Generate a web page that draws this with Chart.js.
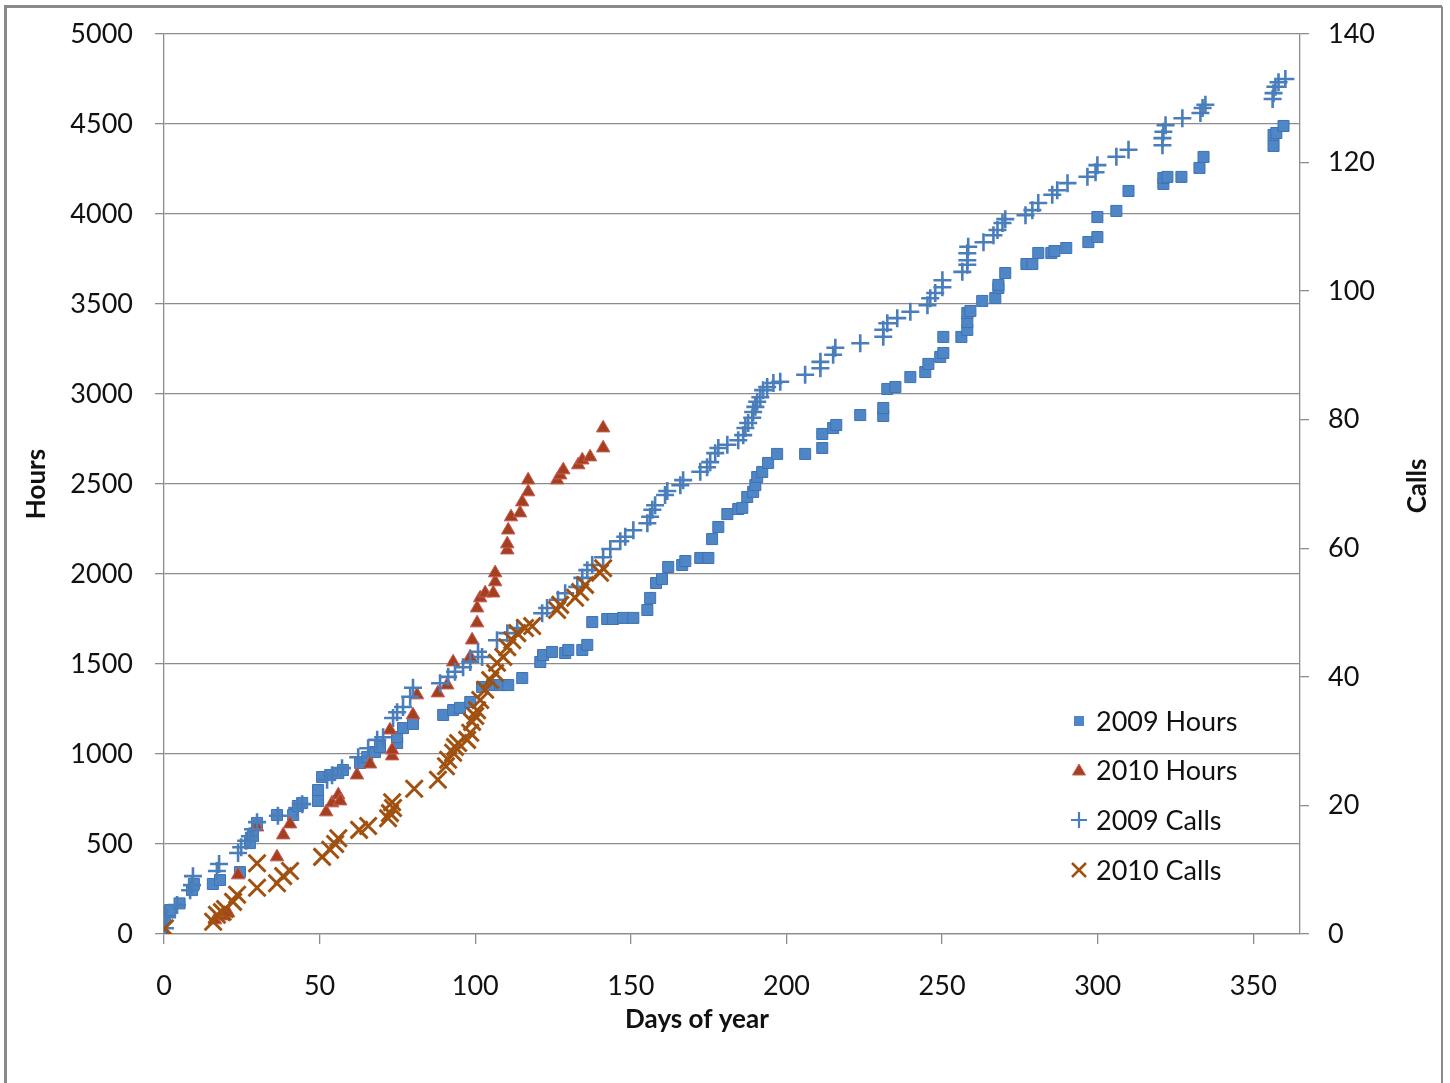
<!DOCTYPE html>
<html><head><meta charset="utf-8">
<script src="https://cdn.jsdelivr.net/npm/chart.js@4/dist/chart.umd.min.js"></script>
<style>html,body{margin:0;padding:0;background:#fff;overflow:hidden;} canvas{display:block;}</style>
</head><body>
<canvas id="c" width="1450" height="1083" style="width:1450px;height:1083px"></canvas>
<script>
// ---- data: [day of year, value] ----
const seriesNames = ['2009 Hours', '2010 Hours', '2009 Calls', '2010 Calls'];
const xTickValues = [0, 50, 100, 150, 200, 250, 300, 350];

const hours2009 = [[0.3,89],[1,122],[2,133],[5,170],[9,244],[9.6,278],[15.7,278],[18,300],[24.4,344],[27.6,505],[28.6,544],[29.9,617],[36.3,661],[41.5,661],[43,711],[44.4,728],[49.5,739],[49.5,800],[50.8,872],[53.4,883],[56,894],[57.5,911],[63,950],[65.3,983],[67.8,1011],[69.4,1039],[74.9,1061],[74.9,1094],[76.8,1144],[80,1167],[89.7,1217],[92.9,1244],[95.1,1256],[98.4,1289],[102.2,1372],[105.4,1383],[108,1383],[110.6,1383],[115.1,1422],[120.9,1511],[121.8,1550],[124.7,1567],[128.9,1561],[129.9,1578],[134.4,1578],[136,1606],[137.6,1733],[142.4,1750],[144.3,1750],[147.5,1756],[150.8,1756],[155.3,1800],[156.2,1867],[158.1,1950],[160,1972],[162,2039],[166.5,2050],[167.5,2072],[172.3,2089],[174.9,2089],[176.1,2194],[178.1,2261],[181,2333],[184.5,2361],[185.8,2367],[187.4,2428],[189.3,2456],[190,2494],[190.6,2539],[192.2,2567],[194.1,2617],[197,2667],[206,2667],[211.5,2700],[211.5,2778],[215,2811],[216,2828],[223.7,2883],[231.1,2878],[231.1,2922],[232.4,3028],[235,3039],[239.8,3094],[244.6,3122],[245.6,3167],[249.4,3206],[250.4,3228],[250.4,3317],[256.2,3317],[258.1,3356],[258.1,3400],[258.1,3450],[259.1,3461],[262.9,3517],[267.1,3533],[268.1,3589],[268.1,3606],[270.3,3672],[277.1,3722],[279,3722],[280.9,3783],[285.1,3783],[286.1,3794],[289.9,3811],[297,3844],[299.9,3872],[299.9,3983],[306,4017],[309.9,4128],[321.1,4167],[321.1,4200],[322.4,4206],[326.9,4206],[332.7,4256],[334,4317],[356.5,4378],[356.5,4439],[357.4,4450],[359.7,4489]];

const hours2010 = [[0.3,0],[16.4,78],[19.6,100],[20.6,117],[23.8,328],[29.9,594],[36.3,428],[38.3,550],[40.5,611],[52.1,678],[54,728],[56,772],[56.6,739],[62,883],[66.2,944],[72.6,1133],[73.3,989],[73.3,1022],[80,1217],[81.3,1328],[88,1339],[91,1383],[92.9,1511],[98.4,1539],[99,1633],[100.6,1728],[100.6,1811],[101.6,1867],[103.2,1894],[105.8,1894],[106.4,1956],[106.4,2006],[110.3,2133],[110.3,2167],[110.6,2244],[111.5,2317],[114.4,2339],[115.1,2400],[117,2456],[117,2522],[126.3,2522],[127.3,2550],[128.3,2578],[133.1,2606],[134.4,2633],[136.9,2650],[141.1,2700],[141.1,2811]];

const calls2009 = [[0.3,0.9],[1,2.6],[4.2,4.5],[8.4,6.8],[9,7.6],[9.3,9],[17,9.8],[17.7,10.9],[23.8,12.6],[24.8,13.5],[26.4,14.5],[27.6,15.2],[28.6,16.3],[29.9,17.4],[36.6,18.4],[42.8,19.6],[44.4,20.2],[52.4,24],[54,24.7],[57.2,25.8],[62.4,27.5],[65.6,28.9],[68.5,30.2],[70.4,30.6],[73.6,33.6],[74.9,34.5],[76.8,35.3],[79.1,36.9],[80,38.3],[88.7,39],[91.3,40],[93.5,40.8],[96.1,41.5],[98.4,42.3],[100.9,43.9],[102.2,43.1],[107,45.7],[110.3,46.8],[113.5,47.6],[121.5,49.9],[123.1,50.7],[126.6,52],[128.9,53],[132.8,54],[134.4,55.4],[136,56.6],[137.6,57.4],[141.1,58.6],[143.4,59.9],[146.6,61.1],[148.2,61.8],[150.8,62.8],[155.3,63.9],[156.2,64.9],[156.9,66],[157.8,66.7],[161,68.3],[161.7,68.9],[165.9,69.8],[166.8,70.6],[172.3,71.9],[174.5,72.6],[175.5,73.4],[177.1,74.8],[178.1,75.6],[181,76.1],[184.5,76.8],[186.1,77.6],[186.8,78.7],[187.7,79.5],[189,80.3],[189.3,81.2],[190,82],[190.6,82.8],[191.6,83.5],[192.5,84.6],[193.8,85.1],[195.8,85.7],[198,85.9],[206,87],[210.9,88],[210.9,89],[215,90.1],[215.7,91.2],[223.7,91.9],[231.1,92.9],[231.1,94],[232.4,95],[235.6,95.8],[239.8,96.8],[245.3,97.8],[246.2,98.9],[247.8,99.7],[250.1,100.6],[250.1,101.7],[256.5,103],[258.1,104.1],[258.1,104.8],[258.1,105.9],[258.4,106.9],[263.3,107.6],[266.5,108.7],[267.8,109.5],[269.4,110.6],[270.3,111.2],[276.8,111.8],[279,112.6],[280.9,113.7],[285.4,115],[287,115.7],[290.3,116.8],[296.7,117.8],[299.3,118.5],[299.9,119.6],[306,120.9],[309.9,122],[320.8,122.7],[320.8,123.8],[321.1,124.8],[321.8,125.8],[327.2,126.9],[333,127.7],[333.7,128.5],[334.6,129],[356.2,129.9],[356.5,130.8],[357.1,131.8],[358.1,132.5],[360.3,133]];

const calls2010 = [[0.3,0.9],[15.8,1.9],[17,3],[18.6,3.4],[19.6,3.9],[22.2,5],[23.5,6.1],[29.9,7.2],[29.9,11],[36.3,7.9],[38.3,9],[40.5,9.8],[50.8,12],[53.4,13.1],[55,14],[56,14.9],[62.7,16.2],[65.6,16.8],[72,18],[72.6,18.8],[73.6,19.6],[73.3,20.5],[80.4,22.6],[88,24],[90.6,26.1],[91.3,27.1],[92.9,28.2],[93.5,29.1],[94.5,29.7],[97.4,30.2],[98.4,31.3],[99,33],[100,33.9],[100.6,34.8],[101.6,36.4],[103.2,38],[104.8,39.5],[106.4,40.6],[107,42.2],[109,43.1],[110.3,44.6],[111.9,45.7],[113.5,46.8],[116,47.6],[118.3,47.9],[126.3,50.4],[127.3,51.2],[132.1,52.3],[133.7,53.2],[135.3,54.3],[140.1,56.2],[141.1,56.9]];

// ---- styles ----
const BLUE = '#4A7EBB';
const SQ_FILL = '#4F86C6', SQ_EDGE = '#3E72B4';
const TRI_FILL = '#A5401F', TRI_EDGE = '#C65A55';
const X_COL = '#A0510F';
const GRID = '#8c8c8c';
const TXT = '#111';
const FONT = 'Lato';

const toXY = arr => arr.map(p => ({x: p[0], y: p[1]}));

const framePlugin = {
  id: 'frame',
  beforeDraw(chart) {
    const ctx = chart.ctx;
    ctx.save();
    ctx.fillStyle = '#fff';
    ctx.fillRect(0, 0, chart.width, chart.height);
    ctx.strokeStyle = '#8a8a8a';
    ctx.lineWidth = 3;
    ctx.beginPath();
    ctx.moveTo(5.5, 1090); ctx.lineTo(5.5, 6.5); ctx.lineTo(1442, 6.5);
    ctx.stroke();
    ctx.lineWidth = 2;
    ctx.beginPath();
    ctx.moveTo(1442, 6.5); ctx.lineTo(1442, 1090);
    ctx.stroke();
    ctx.restore();
  },
  afterDraw(chart) {
    const ctx = chart.ctx;
    ctx.save();
    ctx.fillStyle = TXT;
    ctx.font = 'bold 26px ' + FONT;
    ctx.textAlign = 'center';
    ctx.textBaseline = 'middle';
    // x axis title
    ctx.fillText('Days of year', 697, 1020);
    // right axis title
    ctx.translate(1418, 486);
    ctx.rotate(-Math.PI / 2);
    ctx.fillText('Calls', 0, 0);
    ctx.restore();

    // legend
    const rows = [721, 770, 820, 870];
    const mx = 1079, tx = 1096;
    ctx.save();
    rows.forEach((y, i) => {
      ctx.beginPath();
      if (i === 0) {
        ctx.fillStyle = SQ_FILL;
        ctx.fillRect(mx - 5, y - 5, 10, 10);
      } else if (i === 1) {
        ctx.fillStyle = TRI_FILL;
        ctx.strokeStyle = TRI_EDGE;
        ctx.lineWidth = 1;
        ctx.moveTo(mx, y - 6); ctx.lineTo(mx + 6.5, y + 5); ctx.lineTo(mx - 6.5, y + 5); ctx.closePath();
        ctx.fill(); ctx.stroke();
      } else if (i === 2) {
        ctx.strokeStyle = BLUE; ctx.lineWidth = 2.2;
        ctx.moveTo(mx - 8, y); ctx.lineTo(mx + 8, y);
        ctx.moveTo(mx, y - 8); ctx.lineTo(mx, y + 8);
        ctx.stroke();
      } else {
        ctx.strokeStyle = X_COL; ctx.lineWidth = 2.5;
        ctx.moveTo(mx - 7, y - 7); ctx.lineTo(mx + 7, y + 7);
        ctx.moveTo(mx + 7, y - 7); ctx.lineTo(mx - 7, y + 7);
        ctx.stroke();
      }
      ctx.fillStyle = TXT;
      ctx.font = '27px ' + FONT;
      ctx.textAlign = 'left';
      ctx.textBaseline = 'middle';
      ctx.fillText(seriesNames[i], tx, y + 1);
    });
    ctx.restore();
  }
};

const fixVertical = w => s => { s.width = w; s.paddingTop = 16; s.paddingBottom = 16; };

new Chart(document.getElementById('c'), {
  type: 'scatter',
  data: {
    datasets: [
      {label: seriesNames[0], data: toXY(hours2009), yAxisID: 'y', order: 4,
       pointStyle: 'rect', pointRadius: 7.8, backgroundColor: SQ_FILL, borderColor: SQ_EDGE, borderWidth: 1},
      {label: seriesNames[1], data: toXY(hours2010), yAxisID: 'y', order: 3,
       pointStyle: 'triangle', pointRadius: 7.8, backgroundColor: TRI_FILL, borderColor: TRI_EDGE, borderWidth: 1},
      {label: seriesNames[2], data: toXY(calls2009), yAxisID: 'y1', order: 2,
       pointStyle: 'cross', pointRadius: 9, backgroundColor: BLUE, borderColor: BLUE, borderWidth: 2.6},
      {label: seriesNames[3], data: toXY(calls2010), yAxisID: 'y1', order: 1,
       pointStyle: 'crossRot', pointRadius: 12, backgroundColor: X_COL, borderColor: X_COL, borderWidth: 3}
    ]
  },
  options: {
    responsive: false,
    animation: false,
    devicePixelRatio: 1,
    layout: {padding: {left: 21, right: 50, top: 34, bottom: 49}},
    plugins: {legend: {display: false}, tooltip: {enabled: false}},
    elements: {point: {hoverRadius: 8}},
    scales: {
      x: {
        type: 'linear', position: 'bottom', min: 0, max: 365,
        afterBuildTicks: s => { s.ticks = xTickValues.map(v => ({value: v})); },
        afterFit: s => { s.height = 100; },
        ticks: {stepSize: 50, padding: 26, color: TXT, font: {family: FONT, size: 27}, maxRotation: 0,
                callback: v => String(v)},
        grid: {drawOnChartArea: false, drawTicks: true, tickLength: 10, color: GRID, lineWidth: 1.3},
        border: {display: true, color: GRID, width: 1.3},
        title: {display: false}
      },
      y: {
        type: 'linear', position: 'left', min: 0, max: 5000,
        afterFit: fixVertical(143),
        ticks: {stepSize: 500, padding: 22, color: TXT, font: {family: FONT, size: 27},
                callback: v => String(v)},
        grid: {drawOnChartArea: true, drawTicks: true, tickLength: 9, color: GRID, lineWidth: 1.3},
        border: {display: true, color: GRID, width: 1.3},
        title: {display: true, text: 'Hours', color: TXT, font: {family: FONT, size: 26, weight: 'bold'}, padding: 0}
      },
      y1: {
        type: 'linear', position: 'right', min: 0, max: 140,
        afterFit: fixVertical(100),
        ticks: {stepSize: 20, padding: 19, color: TXT, font: {family: FONT, size: 27},
                callback: v => String(v)},
        grid: {drawOnChartArea: false, drawTicks: true, tickLength: 9, color: GRID, lineWidth: 1.3},
        border: {display: true, color: GRID, width: 1.3},
        title: {display: false}
      }
    }
  },
  plugins: [framePlugin]
});
</script>
</body></html>
